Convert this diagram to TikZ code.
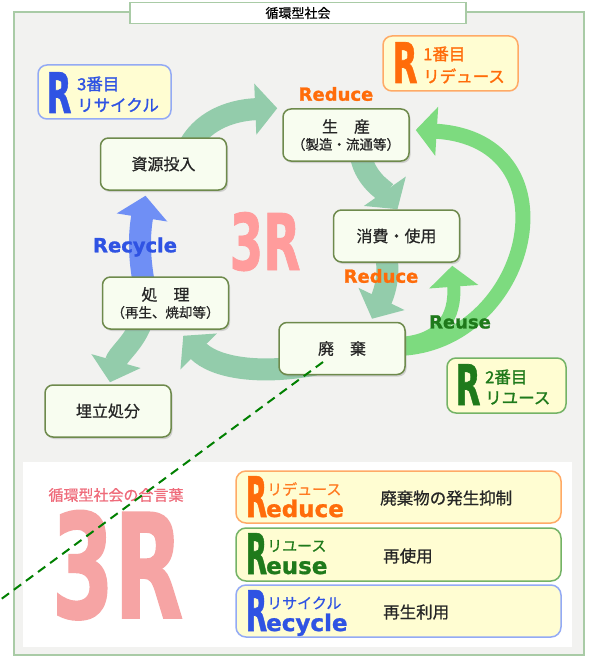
\documentclass[tikz,border=0pt]{standalone}
\usepackage{fontspec}
\setmainfont{Noto Sans CJK JP}
\newfontfamily\jpm[FakeBold=0.7]{Noto Sans CJK JP}
\newfontfamily\jpb[FakeBold=1.4]{Noto Sans CJK JP}
\newfontfamily\heavy[FakeBold=1.2]{DejaVu Sans Bold}
\usetikzlibrary{arrows.meta,shadows}

\definecolor{framebg}{HTML}{F2F2F0}
\definecolor{frameline}{HTML}{A9CBA6}
\definecolor{boxline}{HTML}{6E8A4C}
\definecolor{boxfill}{HTML}{F8FDF0}
\definecolor{tealflow}{HTML}{93CCAB}
\definecolor{greenflow}{HTML}{7DDB7F}
\definecolor{blueflow}{HTML}{6F8FF5}
\definecolor{rdorange}{HTML}{FF6C0A}
\definecolor{rugreen}{HTML}{1F7A1B}
\definecolor{rcblue}{HTML}{2F53E3}
\definecolor{rdline}{HTML}{FFAA66}
\definecolor{ruline}{HTML}{74B366}
\definecolor{rcline}{HTML}{93AAF5}
\definecolor{pinkmid}{HTML}{FF9C9C}
\definecolor{pinkbig}{HTML}{F6A4A4}
\definecolor{pinktext}{HTML}{EF6C7B}
\definecolor{tagfill}{HTML}{FFFDD2}

\pgfdeclarelayer{frame}
\pgfdeclarelayer{flows}
\pgfsetlayers{frame,flows,main}

\tikzset{
  stage/.style={draw=boxline, line width=1.5pt, fill=boxfill, rounded corners=8pt,
    minimum width=126pt, minimum height=52pt, inner sep=0pt, align=center,
    font=\jpm\fontsize{16}{19}\selectfont, text=black!85,
    drop shadow={shadow xshift=1.5pt, shadow yshift=-2pt, opacity=0.3}},
  tagbox/.style={draw=#1, line width=1.5pt, fill=tagfill, rounded corners=9pt, inner sep=0pt},
  flow/.style={line width=22pt, draw=tealflow, -{Triangle[length=22pt,width=50pt]}},
  reuseflow/.style={line width=15pt, draw=greenflow, -{Triangle[length=21pt,width=48pt]}},
  rmark/.style={font=\heavy\fontsize{56}{56}\selectfont, xscale=0.58, anchor=base, inner sep=0pt},
  tail/.style={font=\heavy\fontsize{23}{23}\selectfont, anchor=base west, inner sep=0pt},
  word/.style={font=\heavy\fontsize{18}{18}\selectfont, inner sep=0pt},
  kana/.style={font=\jpm\fontsize{15}{15}\selectfont, anchor=west, inner sep=0pt},
  order/.style={font=\jpb\fontsize{16.5}{16.5}\selectfont, anchor=west, inner sep=0pt},
  mean/.style={font=\jpm\fontsize{16.5}{16.5}\selectfont, anchor=west, inner sep=0pt, text=black!85},
}

\begin{document}
\begin{tikzpicture}[x=1pt,y=-1pt]
  \useasboundingbox (0,0) rectangle (589,658);

  \begin{pgfonlayer}{frame}
    \draw[frameline, line width=2pt, fill=framebg] (13.5,12) rectangle (583.5,655);
    \fill[white] (23,462) rectangle (572,647);
  \end{pgfonlayer}
  \node[draw=frameline, line width=1.5pt, fill=white, minimum width=336pt, minimum height=21pt,
        inner sep=0pt, font=\jpm\fontsize{13}{13}\selectfont] (title) at (298,13) {循環型社会};

  % the cycle
  \node[stage] (prod) at (346,135) {生　産\\[-2pt]{\fontsize{13.5}{15}\selectfont （製造・流通等）}};
  \node[stage] (cons) at (396.5,236) {消費・使用};
  \node[stage] (res) at (163.5,164) {資源投入};
  \node[stage] (proc) at (165.5,303) {処　理\\[-2pt]{\fontsize{13.5}{15}\selectfont （再生、焼却等）}};
  \node[stage] (waste) at (342,348.5) {廃　棄};
  \node[stage] (land) at (108,411) {埋立処分};

  \begin{pgfonlayer}{flows}
    \draw[flow] ([xshift=26pt,yshift=-8pt]res.north) .. controls (205,118) and (235,110) .. ([xshift=-5pt]prod.north west);
    \draw[flow] ([xshift=15pt,yshift=5pt]prod.south) .. controls (366,180) and (384,190) .. ([xshift=1pt]cons.north);
    \draw[flow] ([xshift=-10pt,yshift=5pt]cons.south) .. controls (390,280) and (382,298) .. ([xshift=30pt,yshift=3pt]waste.north);
    \draw[flow] ([xshift=-27pt,yshift=-16pt]waste.center) .. controls (260,375) and (215,368) .. ([xshift=-46pt,yshift=-6pt]proc.south east);
    \draw[flow] ([xshift=-25pt,yshift=5pt]proc.south) .. controls (132,345) and (118,354) .. ([xshift=2pt,yshift=2pt]land.north);
    \draw[flow, draw=blueflow] ([xshift=-22pt,yshift=-5pt]proc.north) .. controls (138,250) and (140,230) .. ([xshift=-18pt,yshift=-5pt]res.south);
    % reuse loops
    \draw[reuseflow] ([xshift=-8pt]waste.east) .. controls (530,345) and (580,140) .. ([xshift=6pt,yshift=5pt]prod.east);
    \draw[reuseflow, line width=13pt] ([xshift=-8pt,yshift=5pt]waste.east) .. controls (440,342) and (456,318) .. ([xshift=-8pt,yshift=-3pt]cons.south east);
  \end{pgfonlayer}

  \node[word, text=rdorange] (redA) at (336,94) {Reduce};
  \node[word, text=rdorange] (redB) at (381,276) {Reduce};
  \node[word, text=rugreen] (reu) at (460,322) {Reuse};
  \node[word, text=rcblue, font=\heavy\fontsize{19.5}{19.5}\selectfont] (rec) at (135,247) {Recycle};
  \node[font=\heavy\fontsize{78}{78}\selectfont, xscale=0.62, anchor=base, inner sep=0pt, text=pinkmid] (threeR) at (265,270) {3R};

  % order tags
  \node[tagbox=rdline, minimum width=135pt, minimum height=55pt] (tagA) at (450.5,63.5) {};
  \node[rmark, text=rdorange] (tagAR) at (405,83) {R};
  \node[order, text=rdorange] (tagAn) at (423,54) {1番目};
  \node[order, text=rdorange] (tagAk) at (423,76) {リデュース};

  \node[tagbox=rcline, minimum width=133pt, minimum height=54pt] (tagC) at (104.5,92) {};
  \node[rmark, text=rcblue] (tagCR) at (59,113) {R};
  \node[order, text=rcblue] (tagCn) at (77,84) {3番目};
  \node[order, text=rcblue] (tagCk) at (77,105) {リサイクル};

  \node[tagbox=ruline, minimum width=119pt, minimum height=55pt] (tagB) at (506.5,385.5) {};
  \node[rmark, text=rugreen] (tagBR) at (468,405) {R};
  \node[order, text=rugreen] (tagBn) at (485,377) {2番目};
  \node[order, text=rugreen] (tagBk) at (485,398) {リユース};

  % key words
  \node[font=\jpm\fontsize{15}{15}\selectfont, text=pinktext, inner sep=0pt] (motto) at (116,495) {循環型社会の合言葉};
  \node[font=\heavy\fontsize{145}{145}\selectfont, xscale=0.62, anchor=base, inner sep=0pt, text=pinkbig] (bigR) at (117.5,618) {3R};

  \node[tagbox=rdline, rounded corners=10pt, minimum width=325pt, minimum height=52pt] (rowA) at (398.5,497) {};
  \node[rmark, text=rdorange, xscale=0.85] (rowAR) at (256.5,517) {R};
  \node[kana, text=rdorange!90] (rowAk) at (267,489) {リデュース};
  \node[tail, text=rdorange] (rowAt) at (266,517) {educe};
  \node[mean] (rowAm) at (380,498) {廃棄物の発生抑制};

  \node[tagbox=ruline, rounded corners=10pt, minimum width=325pt, minimum height=53pt] (rowB) at (398.5,554.5) {};
  \node[rmark, text=rugreen, xscale=0.85] (rowBR) at (256.5,574) {R};
  \node[kana, text=rugreen] (rowBk) at (267,546) {リユース};
  \node[tail, text=rugreen] (rowBt) at (266,574) {euse};
  \node[mean] (rowBm) at (383,556) {再使用};

  \node[tagbox=rcline, rounded corners=10pt, minimum width=325pt, minimum height=52pt] (rowC) at (398.5,611) {};
  \node[rmark, text=rcblue, xscale=0.85] (rowCR) at (256.5,631) {R};
  \node[kana, text=rcblue] (rowCk) at (267,603) {リサイクル};
  \node[tail, text=rcblue] (rowCt) at (266,631) {ecycle};
  \node[mean] (rowCm) at (383,612) {再生利用};

  \coordinate (cutA) at (323,362);
  \coordinate (cutB) at (0,600);
  \draw[green!50!black, line width=2pt, dash pattern=on 9pt off 6pt] (cutA) -- (cutB);
\end{tikzpicture}
\end{document}
